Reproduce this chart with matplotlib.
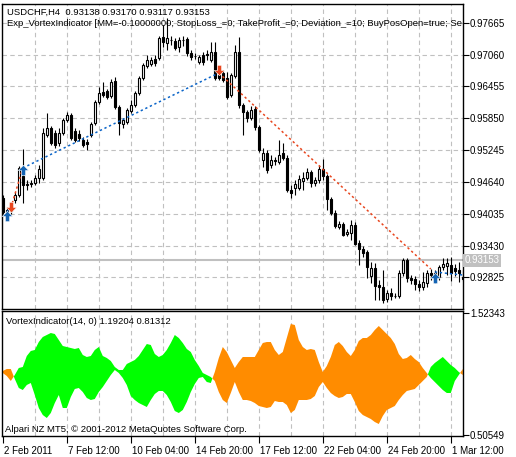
import numpy as np
import matplotlib.pyplot as plt
from matplotlib.path import Path
import matplotlib.transforms as mtransforms

plt.rcParams['font.family'] = ['Liberation Sans', 'DejaVu Sans']

# USDCHF H4 candles
opens = [0.94334, 0.94068, 0.94087, 0.94296, 0.94391, 0.94752, 0.94581, 0.94600, 0.94619, 0.94714,
         0.94714, 0.95531, 0.95664, 0.95569, 0.95379, 0.95569, 0.95816, 0.95911, 0.95607, 0.95550,
         0.95436, 0.95398, 0.95531, 0.95759, 0.96158, 0.96348, 0.96367, 0.96272, 0.96557, 0.96063,
         0.95740, 0.95778, 0.95987, 0.96101, 0.96329, 0.96614, 0.96843, 0.96881, 0.96976, 0.96995,
         0.97394, 0.97280, 0.97337, 0.97318, 0.97204, 0.97337, 0.97356, 0.97090, 0.97033, 0.96919,
         0.97052, 0.97071, 0.96957, 0.97109, 0.96671, 0.96710, 0.96614, 0.96291, 0.96652, 0.97109,
         0.96101, 0.95968, 0.95854, 0.96025, 0.95683, 0.95056, 0.95189, 0.94961, 0.95056, 0.95018,
         0.95189, 0.95094, 0.94486, 0.94524, 0.94524, 0.94657, 0.94714, 0.94828, 0.94619, 0.94676,
         0.94885, 0.94752, 0.94315, 0.94049, 0.93783, 0.93840, 0.93650, 0.93669, 0.93821, 0.93478,
         0.93364, 0.93307, 0.92851, 0.93003, 0.92680, 0.92642, 0.92414, 0.92528, 0.92471, 0.92471,
         0.92908, 0.93155, 0.92813, 0.92794, 0.92699, 0.92642, 0.92718, 0.92908, 0.92908, 0.92832,
         0.93022, 0.93041, 0.93060, 0.93003, 0.92965, 0.92832]
closes = [0.94068, 0.94106, 0.94201, 0.94391, 0.94904, 0.94581, 0.94600, 0.94619, 0.94714, 0.94885,
          0.95569, 0.95664, 0.95379, 0.95341, 0.95569, 0.95816, 0.95911, 0.95474, 0.95436, 0.95474,
          0.95341, 0.95360, 0.95740, 0.96158, 0.96329, 0.96291, 0.96253, 0.96538, 0.96063, 0.95759,
          0.95816, 0.96006, 0.96101, 0.96329, 0.96614, 0.96862, 0.96957, 0.96957, 0.96900, 0.97375,
          0.97299, 0.97375, 0.97328, 0.97185, 0.97337, 0.97328, 0.97090, 0.97014, 0.97024, 0.97014,
          0.96919, 0.97052, 0.97109, 0.96614, 0.96614, 0.96576, 0.96253, 0.96671, 0.97109, 0.96101,
          0.95968, 0.95854, 0.96006, 0.95683, 0.95246, 0.95189, 0.94866, 0.95056, 0.95046, 0.95151,
          0.95094, 0.94486, 0.94429, 0.94600, 0.94695, 0.94714, 0.94828, 0.94619, 0.94676, 0.94885,
          0.94752, 0.94315, 0.94049, 0.93802, 0.93840, 0.93631, 0.93688, 0.93821, 0.93459, 0.93364,
          0.93288, 0.93022, 0.93003, 0.92661, 0.92642, 0.92395, 0.92528, 0.92471, 0.92462, 0.92908,
          0.93155, 0.92813, 0.92775, 0.92699, 0.92642, 0.92737, 0.92908, 0.92870, 0.92832, 0.93022,
          0.93079, 0.93098, 0.92908, 0.92946, 0.92908, 0.92794]
highs = [0.94391, 0.94163, 0.94239, 0.94448, 0.94942, 0.95265, 0.94676, 0.94676, 0.94771, 0.94961,
         0.95664, 0.95949, 0.95702, 0.95626, 0.95664, 0.95854, 0.95968, 0.95949, 0.95664, 0.95626,
         0.95493, 0.95455, 0.95778, 0.96196, 0.96443, 0.96538, 0.96405, 0.96595, 0.96633, 0.96101,
         0.95854, 0.96044, 0.96196, 0.96367, 0.96652, 0.96900, 0.97052, 0.97014, 0.97052, 0.97413,
         0.97622, 0.97755, 0.97413, 0.97375, 0.97394, 0.97413, 0.97394, 0.97147, 0.97090, 0.97052,
         0.97109, 0.97147, 0.97299, 0.97299, 0.96729, 0.96767, 0.96729, 0.96710, 0.97242, 0.97394,
         0.96139, 0.96006, 0.96082, 0.96082, 0.95721, 0.95284, 0.95246, 0.95151, 0.95113, 0.95436,
         0.95379, 0.95151, 0.94581, 0.94676, 0.94771, 0.94828, 0.94904, 0.94866, 0.94733, 0.94961,
         0.95075, 0.94790, 0.94353, 0.94106, 0.93897, 0.93878, 0.93745, 0.93916, 0.93878, 0.93536,
         0.93421, 0.93345, 0.93117, 0.93098, 0.92775, 0.92965, 0.92585, 0.92623, 0.92528, 0.92965,
         0.93193, 0.93193, 0.92870, 0.92851, 0.92775, 0.92927, 0.92965, 0.92984, 0.92965, 0.93060,
         0.93193, 0.93193, 0.93212, 0.93079, 0.93117, 0.92965]
lows = [0.94030, 0.93992, 0.94030, 0.94239, 0.94353, 0.94239, 0.94486, 0.94543, 0.94581, 0.94619,
        0.94676, 0.95493, 0.95341, 0.95284, 0.95322, 0.95531, 0.95778, 0.95436, 0.95398, 0.95417,
        0.95303, 0.95246, 0.95493, 0.95721, 0.96120, 0.96253, 0.96215, 0.96234, 0.96025, 0.95531,
        0.95664, 0.95740, 0.95949, 0.96063, 0.96291, 0.96576, 0.96805, 0.96843, 0.96843, 0.96957,
        0.97204, 0.97147, 0.97242, 0.97147, 0.97109, 0.97223, 0.97033, 0.96957, 0.96976, 0.96881,
        0.96862, 0.96957, 0.96919, 0.96576, 0.96576, 0.96538, 0.96215, 0.96253, 0.96614, 0.96044,
        0.95531, 0.95778, 0.95816, 0.95626, 0.95208, 0.94923, 0.94809, 0.94904, 0.94961, 0.94980,
        0.95056, 0.94448, 0.94334, 0.94391, 0.94486, 0.94486, 0.94676, 0.94543, 0.94562, 0.94619,
        0.94676, 0.94106, 0.94011, 0.93764, 0.93745, 0.93612, 0.93612, 0.93536, 0.93440, 0.93060,
        0.93212, 0.92813, 0.92718, 0.92395, 0.92395, 0.92338, 0.92357, 0.92395, 0.92433, 0.92433,
        0.92851, 0.92737, 0.92699, 0.92585, 0.92566, 0.92585, 0.92642, 0.92775, 0.92718, 0.92775,
        0.92965, 0.92870, 0.92756, 0.92851, 0.92737, 0.92756]

# VortexIndicator(14, 0)
vi_plus = [1.0216, 0.9966, 0.9550, 1.0049, 1.0632, 1.0715, 1.1630, 1.2047, 1.2130, 1.2795,
           1.3212, 1.3378, 1.3544, 1.3461, 1.2962, 1.2462, 1.2379, 1.2296, 1.2213, 1.2296,
           1.1714, 1.1547, 1.1630, 1.2130, 1.2379, 1.1630, 1.1464, 1.1214, 1.0715, 1.0465,
           1.0465, 1.0965, 1.1131, 1.1297, 1.1630, 1.2130, 1.2629, 1.2546, 1.1797, 1.1547,
           1.1714, 1.2130, 1.2712, 1.3378, 1.3128, 1.2712, 1.2213, 1.1963, 1.1297, 1.0798,
           1.0216, 1.0049, 0.9883, 0.9550, 0.8634, 0.7968, 0.7718, 0.8551, 0.9466, 0.8634,
           0.7968, 0.7968, 0.7885, 0.7718, 0.7469, 0.7386, 0.7302, 0.7386, 0.7885, 0.7802,
           0.7802, 0.7552, 0.6886, 0.7136, 0.7968, 0.7968, 0.7968, 0.8051, 0.8301, 0.9050,
           0.9466, 0.8967, 0.8551, 0.8301, 0.8135, 0.8218, 0.8468, 0.8468, 0.7802, 0.7053,
           0.6720, 0.6553, 0.6387, 0.6137, 0.5971, 0.6637, 0.7136, 0.7302, 0.7469, 0.7968,
           0.8384, 0.8717, 0.8801, 0.8884, 0.9217, 0.9550, 0.9883, 1.0715, 1.1048, 1.1297,
           1.1547, 1.1214, 1.0881, 1.0632, 1.0299, 1.0049]
vi_minus = [1.0382, 1.0549, 1.0549, 0.9716, 0.8967, 0.8801, 0.9217, 0.9383, 0.8384, 0.7302,
            0.6720, 0.6470, 0.6886, 0.7718, 0.8384, 0.7302, 0.7302, 0.8218, 0.8884, 0.8967,
            0.8634, 0.8135, 0.7968, 0.8051, 0.8634, 0.9050, 0.9550, 1.0049, 1.0465, 1.0216,
            0.9800, 0.9217, 0.8301, 0.7968, 0.7718, 0.7552, 0.7386, 0.7968, 0.8468, 0.8717,
            0.8717, 0.8384, 0.7802, 0.7053, 0.6886, 0.7136, 0.7802, 0.8634, 0.9300, 0.9800,
            0.9883, 0.9466, 0.9383, 1.0299, 1.1464, 1.2379, 1.1963, 1.1297, 1.0632, 1.1131,
            1.1547, 1.1547, 1.1547, 1.1547, 1.2130, 1.2712, 1.2795, 1.2795, 1.2130, 1.1714,
            1.1963, 1.3128, 1.4293, 1.4210, 1.2962, 1.2379, 1.2130, 1.2213, 1.2130, 1.1131,
            1.0299, 1.0798, 1.1547, 1.2546, 1.2795, 1.2462, 1.1963, 1.1630, 1.2130, 1.2879,
            1.3128, 1.3128, 1.3378, 1.3794, 1.4127, 1.3794, 1.3461, 1.3128, 1.2629, 1.1797,
            1.1381, 1.1464, 1.1714, 1.1381, 1.1131, 1.0632, 1.0216, 0.9800, 0.9466, 0.9134,
            0.8801, 0.8551, 0.8551, 0.9550, 1.0049, 1.0549]

price_ticks = [0.97665, 0.97060, 0.96455, 0.95850, 0.95245, 0.94640, 0.94035, 0.93430, 0.92825]
vi_ticks = [1.52343, 0.50549]
time_ticks = [0, 16, 32, 48, 64, 80, 96, 112]
time_labels = ['2 Feb 2011', '7 Feb 12:00', '10 Feb 04:00', '14 Feb 20:00',
               '17 Feb 12:00', '22 Feb 04:00', '24 Feb 20:00', '1 Mar 12:00']
bid = 0.93153

# trades: (bar, price) pairs
buy_lines = [((1, 0.94068), (2, 0.94144)), ((5, 0.94904), (54, 0.96710)), ((108, 0.92927), (115, 0.92870))]
sell_lines = [((2, 0.94144), (5, 0.94904)), ((54, 0.96710), (107, 0.92984))]
buy_arrows = [(1, 0.93992), (5, 0.94866), (108, 0.92813)]
sell_arrows = [(2, 0.94163), (54, 0.96767)]

W, H = 516, 457
fig = plt.figure(figsize=(W / 100, H / 100), dpi=100)
ax = fig.add_axes([2 / W, 1 - 309 / H, 461 / W, 305 / H])
axi = fig.add_axes([2 / W, 1 - 436 / H, 461 / W, 125 / H])

n = len(opens)
x = np.arange(n)
o = np.array(opens); c = np.array(closes)
hi = np.array(highs); lo = np.array(lows)

grid_kw = dict(color='#c0c0c0', linestyle=(0, (4, 3)), linewidth=0.8, zorder=0)
for a in (ax, axi):
    for gx in range(8, n, 8):
        a.axvline(gx, **grid_kw)
for gy in price_ticks:
    ax.axhline(gy, **grid_kw)

ax.axhline(bid, color='#c0c0c0', linewidth=1.5, zorder=1)

ax.vlines(x, lo, hi, color='black', linewidth=0.8, zorder=2)
bottoms = np.minimum(o, c)
heights = np.maximum(np.abs(c - o), 0.000005)
colors = ['white' if cc >= oo else 'black' for oo, cc in zip(o, c)]
ax.bar(x, heights, bottom=bottoms, width=0.6, color=colors, edgecolor='black',
       linewidth=0.8, zorder=3)

for (x0, y0), (x1, y1) in buy_lines:
    ax.plot([x0, x1], [y0, y1], color='#0a64c8', linestyle=(0, (1.5, 1.8)), linewidth=1.1, zorder=4)
for (x0, y0), (x1, y1) in sell_lines:
    ax.plot([x0, x1], [y0, y1], color='#e8461e', linestyle=(0, (1.5, 1.8)), linewidth=1.1, zorder=4)

up = Path([(0, 1), (-1, 0), (-0.4, 0), (-0.4, -1), (0.4, -1), (0.4, 0), (1, 0), (0, 1)],
          [Path.MOVETO] + [Path.LINETO] * 6 + [Path.CLOSEPOLY])
down = Path([(0, -1), (-1, 0), (-0.4, 0), (-0.4, 1), (0.4, 1), (0.4, 0), (1, 0), (0, -1)],
            [Path.MOVETO] + [Path.LINETO] * 6 + [Path.CLOSEPOLY])
for bx, by in buy_arrows:
    ax.plot(bx, by, marker=up, markersize=7.5, color='#1464b4', markeredgecolor='white',
            markeredgewidth=0.4, zorder=5)
for sx, sy in sell_arrows:
    ax.plot(sx, sy, marker=down, markersize=7.5, color='#e8461e', markeredgecolor='white',
            markeredgewidth=0.4, zorder=5)

vp = np.array(vi_plus); vm = np.array(vi_minus)
axi.fill_between(x, vp, vm, where=vp >= vm, interpolate=True, color='#00ff00', linewidth=0, zorder=2)
axi.fill_between(x, vp, vm, where=vp < vm, interpolate=True, color='#ff8c00', linewidth=0, zorder=2)

for a in (ax, axi):
    a.set_xlim(-0.2, 115.05)
    for s in a.spines.values():
        s.set_linewidth(1.0)
        s.set_color('black')
    a.yaxis.tick_right()
    a.tick_params(axis='y', direction='out', length=4, width=0.8, pad=1, labelsize=7)

ax.set_ylim(0.92224, 0.98021)
ax.set_yticks(price_ticks)
ax.set_yticklabels(['%.5f' % t for t in price_ticks])
ax.set_xticks([])

axi.set_ylim(0.4972, 1.5375)
axi.set_yticks(vi_ticks)
axi.set_yticklabels(['%.5f' % t for t in vi_ticks])
axi.set_xticks(time_ticks)
axi.set_xticklabels(time_labels, ha='left')
axi.tick_params(axis='x', direction='out', length=5, width=0.8, pad=2, labelsize=7)
shift = mtransforms.ScaledTranslation(1 / 100, 0, fig.dpi_scale_trans)
for lbl in axi.get_xticklabels():
    lbl.set_transform(lbl.get_transform() + shift)

ax.text(1.004, bid, '%.5f' % bid, transform=ax.get_yaxis_transform(), fontsize=7,
        color='white', va='center', ha='left',
        bbox=dict(boxstyle='square,pad=0.15', facecolor='#c0c0c0', edgecolor='none'), clip_on=False)

ax.text(0.0108, 0.9738, 'USDCHF,H4  0.93138 0.93170 0.93117 0.93153', transform=ax.transAxes,
        fontsize=6.8, va='center', ha='left', zorder=6)
ax.text(0.0108, 0.9377,
        'Exp_VortexIndicator [MM=-0.10000000; StopLoss_=0; TakeProfit_=0; Deviation_=10; '
        'BuyPosOpen=true; Se',
        transform=ax.transAxes, fontsize=6.8, va='center', ha='left', clip_on=True, zorder=6)
axi.text(0.0087, 0.92, 'VortexIndicator(14, 0) 1.19204 0.81312', transform=axi.transAxes,
         fontsize=6.8, va='center', ha='left', zorder=6)
axi.text(0.0065, 0.056, 'Alpari NZ MT5, \u00a9 2001-2012 MetaQuotes Software Corp.',
         transform=axi.transAxes, fontsize=6.8, va='center', ha='left', zorder=6)

fig.savefig('out.png', dpi=100, facecolor='white')
